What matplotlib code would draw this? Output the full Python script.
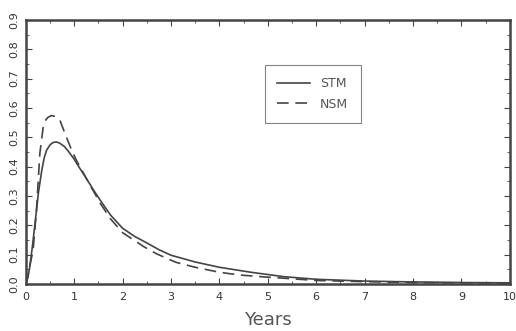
import numpy as np
import matplotlib
matplotlib.use('Agg')
import matplotlib.pyplot as plt
from matplotlib.ticker import MultipleLocator, FormatStrFormatter

# valores
anos_stm = [0, 0.04, 0.08, 0.13, 0.19, 0.26, 0.33, 0.38, 0.43, 0.5, 0.56, 0.63, 0.7, 0.8, 0.9,
            1.0, 1.12, 1.25, 1.4, 1.54, 1.75, 2.0, 2.25, 2.5, 2.75, 3.0, 3.5, 4.0, 4.65, 5.33,
            6.0, 7.0, 8.0, 9.0, 10.0]
stm = [0, 0.02, 0.056, 0.12, 0.205, 0.31, 0.387, 0.43, 0.456, 0.474, 0.482, 0.484, 0.480,
       0.468, 0.448, 0.425, 0.393, 0.36, 0.32, 0.285, 0.235, 0.19, 0.162, 0.140, 0.117,
       0.098, 0.075, 0.057, 0.040, 0.025, 0.016, 0.010, 0.007, 0.005, 0.004]

anos_nsm = [0, 0.04, 0.08, 0.15, 0.22, 0.29, 0.36, 0.41, 0.45, 0.53, 0.6, 0.7, 0.84, 0.95,
            1.05, 1.3, 1.55, 1.75, 2.0, 2.2, 2.45, 2.7, 3.1, 3.5, 4.0, 4.4, 4.85, 5.3, 6.0,
            7.0, 8.0, 9.0, 10.0]
nsm = [0, 0.025, 0.06, 0.114, 0.25, 0.445, 0.535, 0.558, 0.567, 0.574, 0.571, 0.56, 0.50,
       0.455, 0.42, 0.345, 0.272, 0.222, 0.175, 0.153, 0.126, 0.103, 0.074, 0.057, 0.040,
       0.031, 0.025, 0.020, 0.012, 0.008, 0.005, 0.004, 0.003]

cor = '#444444'
plt.rcParams['font.family'] = ['DejaVu Sans']

fig = plt.figure(figsize=(5.16, 3.31), dpi=100)
ax = fig.add_axes([0.050, 0.142, 0.938, 0.798])

ax.plot(anos_stm, stm, color=cor, lw=1.2, label='STM')
ax.plot(anos_nsm, nsm, color=cor, lw=1.2, ls=(0, (7, 4)), label='NSM')

ax.set_xlim(0, 10)
ax.set_ylim(0, 0.9)
ax.xaxis.set_major_locator(MultipleLocator(1))
ax.xaxis.set_minor_locator(MultipleLocator(0.5))
ax.yaxis.set_major_locator(MultipleLocator(0.1))
ax.yaxis.set_minor_locator(MultipleLocator(0.05))
ax.yaxis.set_major_formatter(FormatStrFormatter('%.1f'))
ax.tick_params(which='both', direction='in', top=True, right=True, color=cor,
               labelcolor='#333333', labelsize=8)
ax.tick_params(which='major', length=4, width=0.8)
ax.tick_params(which='minor', length=2, width=0.6)
ax.tick_params(axis='x', pad=6)
ax.tick_params(axis='y', labelrotation=90, pad=5)
for lab in ax.get_yticklabels():
    lab.set_va('center')
for s in ax.spines.values():
    s.set_linewidth(1.8)
    s.set_color(cor)

ax.set_xlabel('Years', fontsize=13, color='#555555', labelpad=6)

leg = ax.legend(loc='upper left', bbox_to_anchor=(0.494, 0.83), borderaxespad=0,
                frameon=True, fancybox=False, edgecolor='#666666', fontsize=9,
                handlelength=2.6, borderpad=1.0, labelspacing=0.6)
leg.get_frame().set_linewidth(0.8)
for t in leg.get_texts():
    t.set_color('#555555')

fig.savefig('out.png', dpi=100)
